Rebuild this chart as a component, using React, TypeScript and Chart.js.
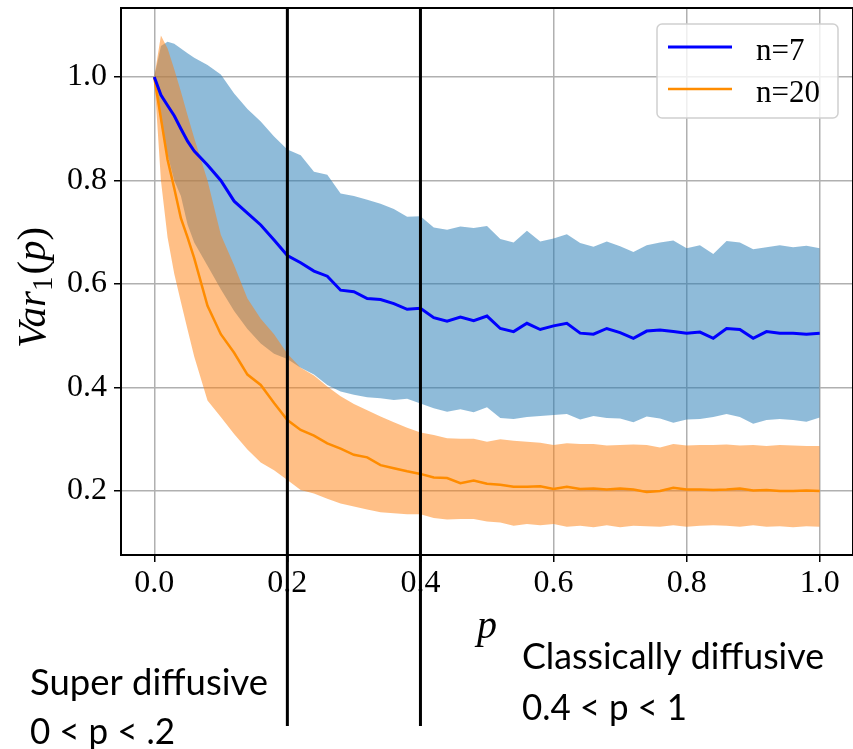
import { useEffect, useRef } from "react";
import { Chart, registerables } from "chart.js";

Chart.register(...registerables);

// ---------- data ----------
const P = [
  0, 0.01, 0.02, 0.03, 0.04, 0.05, 0.06, 0.08, 0.1, 0.12, 0.14, 0.16, 0.18, 0.2,
  0.22, 0.24, 0.26, 0.28, 0.3, 0.32, 0.34, 0.36, 0.38, 0.4, 0.42, 0.44, 0.46,
  0.48, 0.5, 0.52, 0.54, 0.56, 0.58, 0.6, 0.62, 0.64, 0.66, 0.68, 0.7, 0.72,
  0.74, 0.76, 0.78, 0.8, 0.82, 0.84, 0.86, 0.88, 0.9, 0.92, 0.94, 0.96, 0.98, 1.0,
];

const N7_MEAN = [
  1.0, 0.965, 0.945, 0.925, 0.9, 0.876, 0.857, 0.83, 0.8, 0.76, 0.737, 0.714, 0.685, 0.655,
  0.641, 0.625, 0.615, 0.588, 0.585, 0.572, 0.57, 0.562, 0.551, 0.553, 0.535, 0.528, 0.536,
  0.529, 0.538, 0.514, 0.508, 0.524, 0.512, 0.519, 0.524, 0.505, 0.503, 0.514, 0.506, 0.495,
  0.509, 0.511, 0.508, 0.505, 0.507, 0.495, 0.514, 0.512, 0.495, 0.508, 0.505, 0.505, 0.503, 0.505,
];
const N7_UPPER = [
  1.0, 1.06, 1.068, 1.064, 1.055, 1.046, 1.037, 1.023, 1.005, 0.968, 0.938, 0.914, 0.885, 0.86,
  0.849, 0.817, 0.811, 0.775, 0.77, 0.763, 0.755, 0.745, 0.73, 0.731, 0.709, 0.705, 0.711,
  0.708, 0.712, 0.687, 0.68, 0.703, 0.682, 0.688, 0.696, 0.679, 0.672, 0.682, 0.673, 0.662,
  0.675, 0.68, 0.684, 0.669, 0.675, 0.658, 0.683, 0.68, 0.667, 0.671, 0.675, 0.671, 0.674, 0.669,
];
const N7_LOWER = [
  1.0, 0.91, 0.85, 0.8, 0.77, 0.715, 0.68, 0.635, 0.59, 0.548, 0.513, 0.485, 0.465, 0.455,
  0.438, 0.425, 0.405, 0.392, 0.386, 0.381, 0.379, 0.376, 0.378, 0.369, 0.36, 0.353, 0.358,
  0.352, 0.362, 0.341, 0.339, 0.343, 0.345, 0.347, 0.349, 0.338, 0.345, 0.341, 0.34, 0.333,
  0.344, 0.34, 0.332, 0.338, 0.339, 0.343, 0.349, 0.343, 0.33, 0.337, 0.339, 0.337, 0.334, 0.342,
];

const N20_MEAN = [
  1.0, 0.92, 0.84, 0.785, 0.727, 0.69, 0.65, 0.558, 0.503, 0.467, 0.425, 0.405, 0.37, 0.337,
  0.318, 0.307, 0.292, 0.282, 0.27, 0.265, 0.25, 0.244, 0.238, 0.233, 0.226, 0.225, 0.215,
  0.22, 0.214, 0.212, 0.208, 0.208, 0.209, 0.204, 0.208, 0.204, 0.205, 0.203, 0.205, 0.203,
  0.198, 0.2, 0.206, 0.203, 0.203, 0.202, 0.203, 0.205, 0.201, 0.202, 0.2, 0.2, 0.201, 0.2,
];
const N20_UPPER = [
  1.0, 1.08, 1.055, 1.015, 0.972, 0.926, 0.882, 0.8, 0.695, 0.636, 0.572, 0.533, 0.503, 0.465,
  0.438, 0.423, 0.402, 0.383, 0.368, 0.356, 0.344, 0.333, 0.322, 0.313, 0.308, 0.302, 0.301,
  0.301, 0.295, 0.3, 0.297, 0.295, 0.293, 0.289, 0.292, 0.291, 0.291, 0.288, 0.289, 0.29,
  0.289, 0.284, 0.291, 0.288, 0.289, 0.289, 0.29, 0.288, 0.289, 0.287, 0.289, 0.288, 0.287, 0.287,
];
const N20_LOWER = [
  1.0, 0.8, 0.69, 0.62, 0.565, 0.512, 0.46, 0.375, 0.343, 0.31, 0.28, 0.255, 0.24, 0.221,
  0.202, 0.195, 0.185, 0.176, 0.17, 0.164, 0.159, 0.157, 0.155, 0.155, 0.148, 0.145, 0.146,
  0.146, 0.141, 0.139, 0.133, 0.136, 0.134, 0.136, 0.131, 0.133, 0.13, 0.134, 0.13, 0.133,
  0.132, 0.131, 0.134, 0.131, 0.133, 0.134, 0.133, 0.131, 0.134, 0.131, 0.132, 0.13, 0.132, 0.131,
];

const SERIES_LABELS = ["n=7", "n=20"];
const X_TICKS = [0, 0.2, 0.4, 0.6, 0.8, 1.0];
const Y_TICKS = [0.2, 0.4, 0.6, 0.8, 1.0];
const REGIME_BOUNDARIES = [0.2, 0.4];
const REGIME_TEXT = [
  ["Super diffusive", "0 < p < .2"],
  ["Classically diffusive", "0.4 < p < 1"],
];

// ---------- styles ----------
const BLUE = "#0000ff";
const ORANGE = "#ff8c00";
const BLUE_FILL = "rgba(31,119,180,0.5)";
const ORANGE_FILL = "rgba(255,127,14,0.5)";
const SERIF = '"Liberation Serif", serif';

const pts = (arr: number[]) => P.map((p, i) => ({ x: p, y: arr[i] }));

function fitText(ctx: CanvasRenderingContext2D, text: string, x: number, y: number, width: number) {
  const w = ctx.measureText(text).width;
  ctx.save();
  ctx.translate(x, y);
  ctx.scale(width / w, 1);
  ctx.fillText(text, 0, 0);
  ctx.restore();
}

const overlayPlugin = {
  id: "overlay",
  afterDraw(chart: any) {
    const { ctx, chartArea } = chart;
    const xs = chart.scales.x;
    const { left, right, top, bottom } = chartArea;
    ctx.save();

    // frame
    ctx.strokeStyle = "#000";
    ctx.lineWidth = 2;
    ctx.strokeRect(left, top, right - left, bottom - top);

    // legend
    const lines = chart.data.datasets.filter((d: any) => d.isSeries);
    const lx = 657, ly = 24, lw = 181, lh = 94;
    ctx.beginPath();
    ctx.roundRect(lx, ly, lw, lh, 5);
    ctx.fillStyle = "rgba(255,255,255,0.8)";
    ctx.fill();
    ctx.strokeStyle = "#d0d0d0";
    ctx.lineWidth = 1.5;
    ctx.stroke();
    lines.forEach((d: any, i: number) => {
      const yy = 47 + i * 42;
      ctx.strokeStyle = d.borderColor;
      ctx.lineWidth = d.borderWidth;
      ctx.beginPath();
      ctx.moveTo(668, yy);
      ctx.lineTo(732, yy);
      ctx.stroke();
      ctx.fillStyle = "#000";
      ctx.font = `31px ${SERIF}`;
      ctx.textAlign = "left";
      ctx.textBaseline = "alphabetic";
      ctx.fillText(d.label, 756, yy + 13);
    });

    // x title
    ctx.fillStyle = "#000";
    ctx.font = `italic 40px ${SERIF}`;
    ctx.textAlign = "center";
    ctx.textBaseline = "alphabetic";
    ctx.fillText("p", (left + right) / 2, 638);

    // y title Var_1(p)
    ctx.save();
    ctx.translate(45, 348);
    ctx.rotate(-Math.PI / 2);
    ctx.textAlign = "left";
    let cx = 0;
    const part = (t: string, font: string, dy: number) => {
      ctx.font = font;
      ctx.fillText(t, cx, dy);
      cx += ctx.measureText(t).width;
    };
    part("Var", `italic 41px ${SERIF}`, 0);
    part("1", `29px ${SERIF}`, 7);
    cx += 2;
    part("(", `41px ${SERIF}`, 0);
    part("p", `italic 41px ${SERIF}`, 0);
    part(")", `41px ${SERIF}`, 0);
    ctx.restore();

    // regime boundaries
    ctx.strokeStyle = "#000";
    ctx.lineWidth = 3;
    REGIME_BOUNDARIES.forEach((v) => {
      const x = xs.getPixelForValue(v);
      ctx.beginPath();
      ctx.moveTo(x, top);
      ctx.lineTo(x, 726);
      ctx.stroke();
    });

    // regime text
    ctx.fillStyle = "#000";
    ctx.textAlign = "left";
    ctx.textBaseline = "alphabetic";
    ctx.font = '37px Lato, "Open Sans", sans-serif';
    fitText(ctx, REGIME_TEXT[0][0], 30, 695, 238);
    fitText(ctx, REGIME_TEXT[0][1], 30, 744, 145);
    fitText(ctx, REGIME_TEXT[1][0], 522, 669, 302);
    fitText(ctx, REGIME_TEXT[1][1], 522, 720, 165);

    ctx.restore();
  },
};

export default function App() {
  const ref = useRef<HTMLCanvasElement | null>(null);

  useEffect(() => {
    if (!ref.current) return;
    const band = (label: string, arr: number[], fill: any, color: string, order: number) => ({
      label,
      data: pts(arr),
      borderWidth: 0,
      borderColor: "rgba(0,0,0,0)",
      backgroundColor: color,
      pointRadius: 0,
      fill,
      order,
      tension: 0,
    });
    const chart = new Chart(ref.current, {
      type: "line",
      data: {
        datasets: [
          band("n7 upper", N7_UPPER, 1, BLUE_FILL, 4),
          band("n7 lower", N7_LOWER, false, BLUE_FILL, 4),
          band("n20 upper", N20_UPPER, 3, ORANGE_FILL, 3),
          band("n20 lower", N20_LOWER, false, ORANGE_FILL, 3),
          {
            label: SERIES_LABELS[0],
            data: pts(N7_MEAN),
            borderColor: BLUE,
            borderWidth: 3,
            pointRadius: 0,
            fill: false,
            order: 1,
            tension: 0,
            isSeries: true,
          } as any,
          {
            label: SERIES_LABELS[1],
            data: pts(N20_MEAN),
            borderColor: ORANGE,
            borderWidth: 2.5,
            pointRadius: 0,
            fill: false,
            order: 2,
            tension: 0,
            isSeries: true,
          } as any,
        ],
      },
      options: {
        responsive: false,
        devicePixelRatio: 1,
        animation: false,
        layout: { padding: { top: 8, right: 0, left: 0, bottom: 0 } },
        plugins: { legend: { display: false }, tooltip: { enabled: false } },
        scales: {
          x: {
            type: "linear",
            min: -0.05,
            max: 1.05,
            afterFit: (s: any) => {
              s.height = 194;
              s.paddingLeft = 0;
              s.paddingRight = 0;
            },
            afterBuildTicks: (s: any) => {
              s.ticks = X_TICKS.map((v) => ({ value: v }));
            },
            ticks: {
              callback: (v: any) => Number(v).toFixed(1),
              font: { family: SERIF, size: 32 },
              color: "#000",
              padding: 2,
              autoSkip: false,
              maxRotation: 0,
            },
            grid: {
              color: "#b0b0b0",
              lineWidth: 1.5,
              tickColor: "#000",
              tickLength: 7,
              tickWidth: 1.5,
            },
            border: { display: true, color: "#000", width: 2 },
          },
          y: {
            type: "linear",
            min: 0.0763,
            max: 1.1333,
            afterFit: (s: any) => {
              s.width = 121;
              s.paddingTop = 0;
              s.paddingBottom = 0;
            },
            afterBuildTicks: (s: any) => {
              s.ticks = Y_TICKS.map((v) => ({ value: v }));
            },
            ticks: {
              callback: (v: any) => Number(v).toFixed(1),
              font: { family: SERIF, size: 32 },
              color: "#000",
              padding: 7,
              autoSkip: false,
            },
            grid: {
              color: "#b0b0b0",
              lineWidth: 1.5,
              tickColor: "#000",
              tickLength: 7,
              tickWidth: 1.5,
            },
            border: { display: true, color: "#000", width: 2 },
          },
        },
      },
      plugins: [overlayPlugin],
    });
    return () => chart.destroy();
  }, []);

  return (
    <div style={{ position: "absolute", left: 0, top: 0, width: 853, height: 749, background: "#fff" }}>
      <canvas ref={ref} width={853} height={749} style={{ display: "block" }} />
    </div>
  );
}
